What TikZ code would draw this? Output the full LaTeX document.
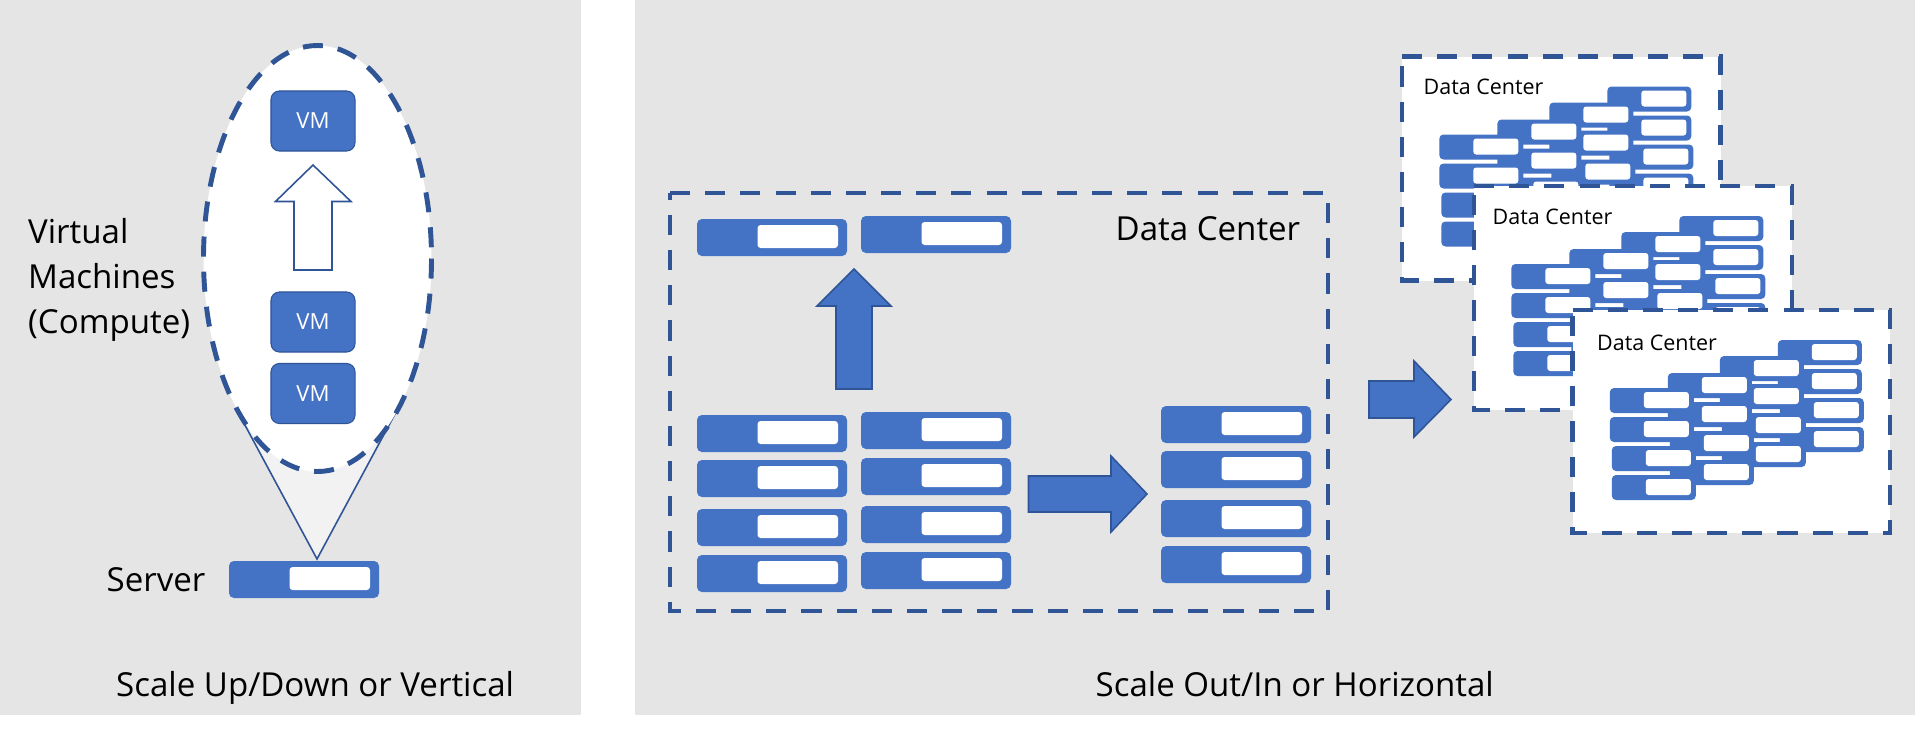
\documentclass[tikz,border=0pt]{standalone}
\usepackage{fontspec}
\setmainfont{Open Sans}
\usepackage{tikz}
\definecolor{c1}{HTML}{4472C4}
\definecolor{c2}{HTML}{2F5597}
\definecolor{panel}{HTML}{E5E5E5}
\tikzset{
  dashbox/.style={draw=c2, line width=1.4pt, dash pattern=on 5.7pt off 4.3pt},
  blockarrow/.style={draw=c2, line width=0.45pt, fill=c1, line join=miter},
  vmbox/.style={draw=c2, line width=0.3pt, fill=c1, rounded corners=2.4pt, text=white,
    minimum width=0.84cm, minimum height=0.6cm, inner sep=0pt, font=\fontsize{6.3}{8}\selectfont},
  biglabel/.style={anchor=west, inner sep=0pt, font=\fontsize{9.4}{12.8}\selectfont},
  smalllabel/.style={anchor=west, inner sep=0pt, font=\fontsize{6.1}{8}\selectfont},
}
% full size server, top left corner given
\newcommand{\bigsrv}[2]{
  \fill[c1, rounded corners=1.4pt] (#1,#2) rectangle ++(150,37);
  \fill[white, rounded corners=0.9pt] ($(#1,#2)+(60.5,6)$) rectangle ++(80.5,23);
}
% small server inside the white boxes
\newcommand{\minisrv}[2]{
  \fill[c1, rounded corners=1.2pt] (#1,#2) rectangle ++(84,25);
  \fill[white, rounded corners=0.8pt] ($(#1,#2)+(34,4)$) rectangle ++(45,16);
}
% white data center box with its staggered servers
\newcommand{\dcbox}[7]{
  \draw[dashbox, fill=white] (#1,#2) -- ++(#3,0) -- ++(0,#4) -- ++(-#3,0) -- cycle;
  \begin{scope}[shift={(#1,#2)}]
    \foreach \px/\py in {205.3/30, 205.3/59, 207.3/88, 207.3/117,
                         147.3/46, 147.3/74, 149.3/103, 149.3/132,
                         95.3/63, 95.3/92, 97.3/121, 97.3/150,
                         37.3/78, 37.3/107, 39.3/136, 39.3/165} {
      \minisrv{\px}{\py}
    }
    \node[smalllabel] (#5) at (#6,#7) {Data Center};
  \end{scope}
}
\usetikzlibrary{calc}
\begin{document}
\begin{tikzpicture}[x=0.01cm, y=-0.01cm]
  \useasboundingbox (0,0) rectangle (1915,730);
  \fill[panel] (0,0) rectangle (581,714.5);
  \fill[panel] (635,0) rectangle (1915,714.5);

  % left panel
  \draw[c2, line width=0.45pt, fill=black!5] (239,414) -- (317,559) -- (395,414) -- cycle;
  \draw[dashbox, fill=white] (317.5,258.5) ellipse [x radius=114, y radius=213];
  \node[vmbox] (vmtop) at (313,121) {VM};
  \node[vmbox] (vmmid) at (313,322) {VM};
  \node[vmbox] (vmlow) at (313,393.5) {VM};
  \draw[c2, line width=0.45pt, fill=white] (313,165) -- (351,201.5) -- (332,201.5) -- (332,270)
    -- (294,270) -- (294,201.5) -- (275.5,201.5) -- cycle;
  \bigsrv{229}{561}
  \node[biglabel, align=left] (vmlabel) at (27.5,280) {Virtual\\Machines\\(Compute)};
  \node[biglabel] (srvlabel) at (106,580) {Server};
  \node[biglabel] (uplabel) at (115.5,687.5) {Scale Up/Down or Vertical};

  % right panel, big data center
  \draw[dashbox] (670,193) -- (1328,193) -- (1328,611) -- (670,611) -- cycle;
  \foreach \px/\py in {697/219, 861/216,
                       697/415, 697/460, 697/509, 697/555,
                       861/412, 861/458, 861/506, 861/552,
                       1161/406, 1161/451, 1161/500, 1161/546} {
    \bigsrv{\px}{\py}
  }
  \draw[blockarrow] (854,269) -- (891,306) -- (872,306) -- (872,389) -- (836,389) -- (836,306) -- (817,306) -- cycle;
  \draw[blockarrow] (1147,494) -- (1111,532) -- (1111,512) -- (1028.5,512) -- (1028.5,476) -- (1111,476) -- (1111,456) -- cycle;
  \node[biglabel] (dclabel) at (1115,229) {Data Center};

  \draw[blockarrow] (1451,399.5) -- (1414,437) -- (1414,418) -- (1369,418) -- (1369,381) -- (1414,381) -- (1414,361) -- cycle;

  % three stacked data centers
  \dcbox{1402}{56.5}{318.5}{224}{dca}{21}{30}
  \dcbox{1474}{186}{318}{224}{dcb}{18}{31}
  \dcbox{1572.5}{310}{317.5}{223}{dcc}{24}{33}

  \node[biglabel] (outlabel) at (1095,684.5) {Scale Out/In or Horizontal};
\end{tikzpicture}
\end{document}
